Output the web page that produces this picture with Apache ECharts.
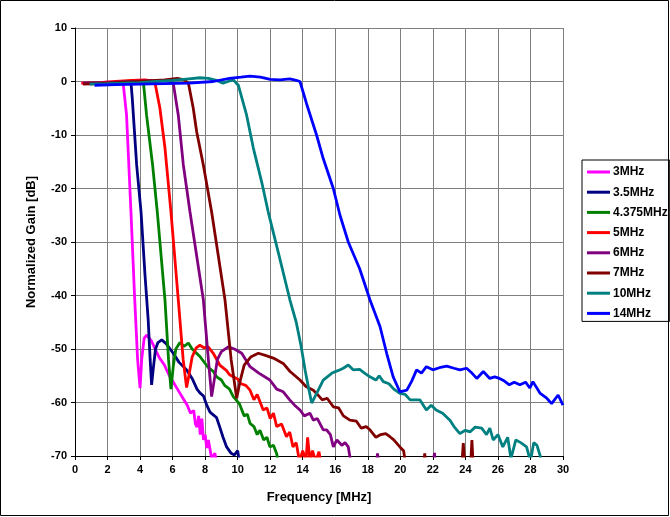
<!DOCTYPE html>
<html>
<head>
<meta charset="utf-8">
<script src="https://cdn.jsdelivr.net/npm/echarts@6/dist/echarts.min.js"></script>
<style>
  html, body { margin: 0; padding: 0; background: #fff; }
  #chart { width: 670px; height: 517px; }
</style>
</head>
<body>
<div id="chart"></div>
<script>
// filter responses, [MHz, dB]
const names = ['3MHz', '3.5MHz', '4.375MHz', '5MHz', '6MHz', '7MHz', '10MHz', '14MHz'];
const colors = ['#FF00FF', '#000080', '#008000', '#FF0000', '#800080', '#800000', '#008080', '#0000FF'];

const f3 = [[0.4,-0.3],[1,-0.3],[2,-0.1],[2.8,-0.2],[2.97,-0.6],[3.17,-6.3],[3.44,-24.4],[3.66,-40],[3.85,-52],[4.0,-57.3],[4.1,-52],[4.25,-48],[4.4,-47.4],[4.7,-48.5],[5.0,-50.5],[5.2,-51.7],[5.5,-53],[5.8,-55],[6.0,-56],[6.3,-57.5],[6.6,-59],[6.9,-60.5],[7.1,-62],[7.3,-61.5],[7.4,-64],[7.5,-64.6],[7.6,-62.5],[7.7,-66],[7.8,-63],[7.9,-67],[8.0,-66],[8.1,-68.5],[8.2,-67],[8.4,-70.5],[8.6,-69.5],[8.8,-73]];
const f35 = [[0.5,-0.4],[1.5,-0.3],[2.5,-0.2],[3.3,-0.1],[3.44,-0.1],[3.52,-3.1],[3.79,-15.6],[4.06,-24.4],[4.3,-36],[4.5,-44.6],[4.62,-52],[4.71,-56.7],[4.8,-54],[4.95,-50],[5.1,-48.8],[5.33,-48.3],[5.6,-49],[6.04,-50.8],[6.4,-52.5],[6.86,-53.9],[7.2,-55.5],[7.5,-57.5],[7.68,-58.2],[7.9,-58.8],[8.1,-60.5],[8.3,-61.8],[8.5,-62.3],[8.7,-62.8],[8.9,-64.6],[9.1,-66.5],[9.32,-68.3],[9.6,-69.5],[9.8,-69.8],[10.0,-69],[10.2,-73]];
const f4375 = [[0.5,-0.3],[1.5,-0.2],[2.5,-0.1],[3.5,0.1],[4.2,0],[4.3,-0.3],[4.4,-6.3],[4.77,-15.6],[5.06,-24.4],[5.53,-40.8],[5.75,-52],[5.9,-57.5],[6.05,-53],[6.2,-50],[6.45,-48.8],[6.7,-49.5],[6.97,-48.9],[7.2,-50],[7.68,-51.4],[8.2,-53.5],[8.5,-54.2],[8.71,-55.2],[9.0,-55.8],[9.2,-56.8],[9.5,-57.5],[9.73,-58.9],[10.1,-60.2],[10.4,-62.5],[10.6,-62.2],[10.76,-63.9],[11.0,-64.5],[11.2,-66],[11.37,-65.2],[11.6,-67],[11.8,-66.5],[11.98,-68.3],[12.2,-68],[12.4,-69.6],[12.6,-73]];
const f5 = [[0.4,-0.3],[1.5,-0.2],[2.5,0],[3.5,0.2],[4.3,0.3],[4.7,0.1],[4.92,-0.3],[5.22,-5],[5.53,-12.4],[5.9,-24.4],[6.35,-40.8],[6.65,-52],[6.86,-57.2],[7.0,-55],[7.2,-51.5],[7.45,-49.8],[7.68,-49.3],[7.95,-49.8],[8.19,-49.6],[8.5,-50.8],[8.9,-53],[9.3,-54],[9.5,-54.8],[9.73,-55.2],[10.0,-55.6],[10.2,-56.5],[10.5,-56.8],[10.76,-57.7],[11.0,-59.5],[11.2,-58.5],[11.57,-61.4],[11.8,-61],[12.0,-63],[12.2,-62],[12.4,-64.5],[12.7,-64],[13.0,-66.4],[13.2,-65.5],[13.4,-68.3],[13.6,-67.5],[13.8,-71],[14.0,-69],[14.2,-71],[14.3,-66.5],[14.45,-71],[14.6,-69],[14.8,-71],[15.0,-69.2],[15.2,-73]];
const f6 = [[0.5,-0.3],[2,-0.2],[3.5,0],[4.5,0.1],[5.5,0.2],[5.9,0],[6.04,-0.3],[6.35,-6.3],[6.66,-15.6],[7.07,-24.4],[7.89,-40.8],[8.2,-52],[8.4,-58.9],[8.55,-56],[8.75,-52],[9.0,-50.5],[9.42,-49.6],[9.8,-50],[10.25,-50.8],[10.76,-53.3],[11.3,-54.5],[11.98,-55.8],[12.4,-57.5],[12.8,-58],[13.2,-59.5],[13.5,-60.5],[13.83,-61.4],[14.1,-62.5],[14.44,-62],[14.65,-63.3],[14.9,-63],[15.26,-65.1],[15.47,-65.1],[15.7,-66],[15.88,-68.3],[16.1,-67],[16.4,-68],[16.6,-67.5],[16.8,-68.3],[17.0,-72],[18.5,-72],[18.6,-69.5],[18.7,-72],[22.0,-72],[22.1,-69.4],[22.2,-73]];
const f7 = [[0.5,-0.5],[1.5,-0.4],[3,-0.1],[4.5,0.1],[5.5,0.3],[6.3,0.6],[6.7,0.3],[6.97,-0.3],[7.27,-5],[7.48,-9.4],[7.89,-15.6],[8.4,-24.4],[9.22,-40.8],[9.6,-52],[9.94,-59.2],[10.15,-56],[10.4,-53],[10.8,-51.5],[11.27,-50.8],[11.7,-51.2],[12.19,-51.7],[12.8,-52.7],[13.22,-54.2],[13.83,-55.8],[14.2,-57],[14.65,-57.7],[14.85,-58.3],[15.2,-59.5],[15.5,-59.2],[15.88,-60.8],[16.2,-61],[16.5,-62.5],[16.9,-63.3],[17.3,-63.5],[17.6,-64.8],[17.9,-64.5],[18.13,-65.1],[18.5,-66.5],[18.8,-66],[19.1,-65.8],[19.36,-66.4],[19.6,-67],[19.97,-68.3],[20.2,-69],[20.4,-73],[21.4,-73],[21.5,-69.5],[21.6,-73],[23.75,-73],[23.87,-67.6],[24.0,-73],[24.3,-73],[24.4,-67],[24.5,-73],[25.0,-74]];
const f10 = [[0.9,-0.5],[2,-0.4],[3,-0.3],[4,-0.2],[5,0],[6,0.2],[7,0.5],[7.68,0.7],[8.2,0.6],[8.7,0.2],[9.1,-0.3],[9.4,0],[9.73,0.3],[10.04,-0.7],[10.55,-6.3],[10.96,-12.4],[11.47,-18.7],[11.88,-24.4],[12.5,-32],[13.21,-40.8],[13.6,-45],[13.9,-49.5],[14.15,-54],[14.34,-57],[14.55,-60.1],[14.9,-58],[15.26,-55.8],[15.8,-54.5],[16.2,-54],[16.49,-53.6],[16.8,-53],[17.1,-53.9],[17.5,-53.8],[17.8,-54.5],[18.13,-55.2],[18.5,-55.8],[18.7,-55],[18.95,-56.1],[19.3,-56.5],[19.6,-57.5],[19.97,-58.3],[20.3,-58.5],[20.6,-59.5],[20.8,-59.5],[21.2,-59.5],[21.6,-61.4],[21.9,-60.5],[22.2,-61.4],[22.6,-62],[23.05,-63.3],[23.3,-64.5],[23.66,-65.8],[24.0,-65.2],[24.28,-65.5],[24.6,-64.6],[25.0,-64.8],[25.3,-66],[25.5,-64.8],[25.71,-67],[26.0,-66],[26.3,-68.3],[26.6,-66.5],[26.8,-70.5],[27.1,-67],[27.4,-67.5],[27.76,-68.3],[28.0,-71],[28.2,-67.5],[28.4,-68],[28.6,-70],[28.7,-73]];
const f14 = [[1.2,-0.7],[2.5,-0.6],[4,-0.5],[5.5,-0.4],[7,-0.3],[8.5,0],[9.5,0.6],[10.2,0.8],[10.76,1.0],[11.4,0.8],[12,0.4],[12.6,0.3],[13.2,0.5],[13.6,0.2],[13.83,0],[14.24,-4.2],[14.85,-10],[15.26,-14.4],[15.88,-20],[16.29,-25],[16.8,-30],[17.5,-35],[18.13,-40.8],[18.75,-45.8],[19.16,-50.8],[19.56,-55.2],[19.97,-58],[20.4,-57.7],[20.7,-56],[21,-53.9],[21.3,-54.5],[21.6,-53.3],[22,-53.9],[22.4,-53.5],[22.85,-53.2],[23.3,-53.6],[23.66,-53.9],[24.07,-53.6],[24.4,-54.5],[24.7,-55.5],[25.1,-54.2],[25.5,-55.5],[25.8,-55.2],[26.1,-55.5],[26.4,-56],[26.7,-56.7],[27.0,-56.2],[27.35,-56.7],[27.7,-56.2],[27.96,-57.3],[28.15,-56.1],[28.6,-58.3],[29.0,-59.2],[29.3,-60.2],[29.7,-58.6],[30,-60.5]];

const curves = [f3, f35, f4375, f5, f6, f7, f10, f14];

const chart = echarts.init(document.getElementById('chart'));

const labelFont = { color: '#000', fontFamily: 'Arial, "Liberation Sans", sans-serif', fontWeight: 'bold', fontSize: 11 };

chart.setOption({
  animation: false,
  backgroundColor: '#fff',
  graphic: [{
    type: 'rect',
    shape: { x: 0.5, y: 0.5, width: 668, height: 515 },
    style: { fill: 'none', stroke: '#000', lineWidth: 1 },
    z: -1
  }],
  grid: { left: 75, right: 107, top: 28, bottom: 61 },
  legend: {
    orient: 'vertical',
    left: 582,
    top: 160,
    data: names,
    icon: 'rect',
    itemWidth: 23,
    itemHeight: 3,
    itemGap: 8.2,
    padding: [6, 2, 2, 5],
    borderColor: '#000',
    borderWidth: 1,
    textStyle: Object.assign({}, labelFont, { fontSize: 12, lineHeight: 12, padding: [0, 0, 0, -2] })
  },
  xAxis: {
    type: 'value',
    min: 0, max: 30, interval: 2,
    name: 'Frequency [MHz]',
    nameLocation: 'middle',
    nameGap: 35,
    nameTextStyle: Object.assign({}, labelFont, { fontSize: 13 }),
    axisLine: { onZero: false, lineStyle: { color: '#000', width: 1 } },
    axisTick: { show: true, length: 4, lineStyle: { color: '#000' } },
    axisLabel: Object.assign({}, labelFont, { margin: 8 }),
    splitLine: { show: true, lineStyle: { color: '#808080', width: 1 } }
  },
  yAxis: {
    type: 'value',
    min: -70, max: 10, interval: 10,
    name: 'Normalized Gain [dB]',
    nameLocation: 'middle',
    nameGap: 37,
    nameTextStyle: Object.assign({}, labelFont, { fontSize: 13 }),
    axisLine: { show: true, onZero: false, lineStyle: { color: '#000', width: 1 } },
    axisTick: { show: true, length: 4, lineStyle: { color: '#000' } },
    axisLabel: Object.assign({}, labelFont, { margin: 8 }),
    splitLine: { show: true, lineStyle: { color: '#808080', width: 1 } }
  },
  series: names.map((n, i) => ({
    name: n,
    type: 'line',
    data: curves[i],
    showSymbol: false,
    clip: true,
    color: colors[i],
    lineStyle: { color: colors[i], width: 2.8 }
  }))
});
</script>
</body>
</html>
